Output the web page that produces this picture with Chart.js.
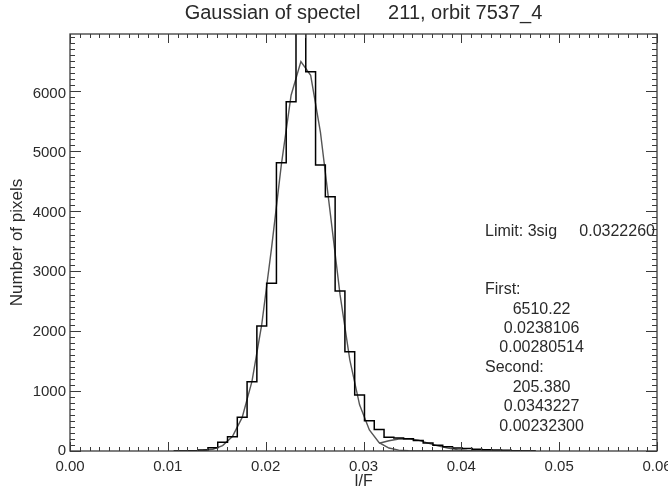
<!DOCTYPE html>
<html>
<head>
<meta charset="utf-8">
<script src="https://cdn.jsdelivr.net/npm/chart.js@4.4.1/dist/chart.umd.min.js"></script>
<style>
html, body { margin: 0; padding: 0; background: #fff; }
canvas { display: block; }
</style>
</head>
<body>
<canvas id="myChart" width="668" height="495"></canvas>
<script>
// bin centres (I/F) of the histogram
const binCenters = [
    0.0106, 0.0116, 0.0126, 0.0136, 0.0146, 0.0156, 0.0166, 0.0176, 0.0186, 0.0196,
    0.0206, 0.0216, 0.0226, 0.0236, 0.0246, 0.0256, 0.0266, 0.0276, 0.0286, 0.0296,
    0.0306, 0.0316, 0.0326, 0.0336, 0.0346, 0.0356, 0.0366, 0.0376, 0.0386, 0.0396,
    0.0406, 0.0416, 0.0426, 0.0436, 0.0446, 0.0456, 0.0466, 0.0476
];
// number of pixels per bin (peak bin runs off the top)
const pixelCounts = [
    0, 0, 3, 17, 55, 145, 238, 561, 1155, 2083,
    2795, 4805, 5822, 7300, 6322, 4767, 4238, 2667, 1655, 933,
    505, 360, 230, 215, 205, 175, 135, 95, 70, 50,
    40, 30, 22, 15, 12, 5, 2, 0
];
// first gaussian
const firstFit = [
    0, 1, 3, 9, 30, 90, 240, 560, 1160, 2110,
    3380, 4770, 5930, 6490, 6260, 5310, 3970, 2610, 1520, 770,
    350, 140, 50, 15, 4, 1, 0, 0, 0, 0,
    0, 0, 0, 0, 0, 0, 0, 0
];
// second gaussian, drawn from the limit onwards
const secondFit = [
    null, null, null, null, null, null, null, null, null, null,
    null, null, null, null, null, null, null, null, null, null,
    null, 130, 170, 200, 205, 180, 130, 85, 50, 22,
    8, 2, 0, 0, 0, 0, 0, 0
];
const xTickLabels = ['0.00', '0.01', '0.02', '0.03', '0.04', '0.05', '0.06'];
const yTickLabels = ['0', '1000', '2000', '3000', '4000', '5000', '6000'];

const titleText = 'Gaussian of spectel     211, orbit 7537_4';
const notes = [
    { text: 'Limit: 3sig', x: 0.04242, y: 3655, align: 'left' },
    { text: '0.0322260', x: 0.05979, y: 3655, align: 'right' },
    { text: 'First:', x: 0.04242, y: 2683, align: 'left' },
    { text: '6510.22', x: 0.04820, y: 2350, align: 'center' },
    { text: '0.0238106', x: 0.04820, y: 2033, align: 'center' },
    { text: '0.00280514', x: 0.04820, y: 1717, align: 'center' },
    { text: 'Second:', x: 0.04242, y: 1383, align: 'left' },
    { text: '205.380', x: 0.04820, y: 1050, align: 'center' },
    { text: '0.0343227', x: 0.04820, y: 733, align: 'center' },
    { text: '0.00232300', x: 0.04820, y: 400, align: 'center' }
];

const FONT = "'Liberation Sans', Arial, Helvetica, sans-serif";
const INK = '#2a2a2a';

// IDL style box with inward ticks on all four sides
const boxTicks = {
    id: 'boxTicks',
    afterDatasetsDraw(chart) {
        const { ctx, chartArea: a, scales: { x, y } } = chart;
        ctx.save();
        ctx.strokeStyle = '#3a3a3a';
        ctx.lineWidth = 1.3;
        ctx.strokeRect(a.left, a.top, a.right - a.left, a.bottom - a.top);
        ctx.lineWidth = 1;
        ctx.beginPath();
        for (let i = 0; i <= 60; i++) {
            const px = Math.round(x.getPixelForValue(i / 1000)) + 0.5;
            const len = i % 10 === 0 ? 9 : 4;
            ctx.moveTo(px, a.bottom); ctx.lineTo(px, a.bottom - len);
            ctx.moveTo(px, a.top); ctx.lineTo(px, a.top + len);
        }
        for (let v = 0; v <= y.max; v += 100) {
            const py = Math.round(y.getPixelForValue(v)) + 0.5;
            const len = v % 1000 === 0 ? 11 : 5;
            ctx.moveTo(a.left, py); ctx.lineTo(a.left + len, py);
            ctx.moveTo(a.right, py); ctx.lineTo(a.right - len, py);
        }
        ctx.stroke();
        ctx.restore();
    },
    afterDraw(chart) {
        const { ctx, scales: { x, y } } = chart;
        ctx.save();
        ctx.fillStyle = INK;
        ctx.font = '16px ' + FONT;
        ctx.textBaseline = 'middle';
        notes.forEach(n => {
            ctx.textAlign = n.align;
            ctx.fillText(n.text, x.getPixelForValue(n.x), y.getPixelForValue(n.y));
        });
        ctx.restore();
    }
};

const ctx = document.getElementById('myChart').getContext('2d');
const myChart = new Chart(ctx, {
    type: 'line',
    data: {
        datasets: [
            {
                label: 'histogram',
                data: binCenters.map((c, i) => ({ x: c, y: pixelCounts[i] })),
                stepped: 'middle',
                borderColor: '#000',
                borderWidth: 1.5,
                pointRadius: 0,
                fill: false
            },
            {
                label: 'first',
                data: binCenters.map((c, i) => ({ x: c, y: firstFit[i] })),
                borderColor: '#555',
                borderWidth: 1.4,
                pointRadius: 0,
                tension: 0,
                fill: false
            },
            {
                label: 'second',
                data: binCenters.map((c, i) => ({ x: c, y: secondFit[i] })),
                borderColor: '#555',
                borderWidth: 1.4,
                pointRadius: 0,
                tension: 0,
                fill: false
            }
        ]
    },
    options: {
        responsive: false,
        animation: false,
        devicePixelRatio: 1,
        layout: { padding: { top: 0, right: 11, bottom: 0, left: 0 } },
        plugins: {
            legend: { display: false },
            tooltip: { enabled: false },
            title: {
                display: true,
                fullSize: false,
                text: titleText,
                color: INK,
                font: { family: FONT, size: 20, weight: 'normal' },
                padding: { top: 1, bottom: 9 }
            }
        },
        scales: {
            x: {
                type: 'linear',
                min: 0,
                max: 0.06,
                grid: { display: false, drawTicks: false },
                border: { display: false },
                ticks: {
                    stepSize: 0.01,
                    maxRotation: 0,
                    autoSkip: false,
                    padding: 7,
                    color: INK,
                    font: { family: FONT, size: 15 },
                    callback: (v, i) => xTickLabels[i]
                },
                title: {
                    display: true,
                    text: 'I/F',
                    color: INK,
                    font: { family: FONT, size: 16 },
                    padding: { top: 0, bottom: 4 }
                },
                afterFit: s => { s.height = 44; s.paddingLeft = 0; s.paddingRight = 0; }
            },
            y: {
                min: 0,
                max: 6950,
                grid: { display: false, drawTicks: false },
                border: { display: false },
                ticks: {
                    stepSize: 1000,
                    includeBounds: false,
                    padding: 4,
                    color: INK,
                    font: { family: FONT, size: 15 },
                    callback: v => yTickLabels[Math.round(v / 1000)]
                },
                title: {
                    display: true,
                    text: 'Number of pixels',
                    color: INK,
                    font: { family: FONT, size: 17 },
                    padding: { top: 7, bottom: 0 }
                },
                afterFit: s => { s.width = 70; s.paddingTop = 0; s.paddingBottom = 0; }
            }
        }
    },
    plugins: [boxTicks]
});
</script>
</body>
</html>
